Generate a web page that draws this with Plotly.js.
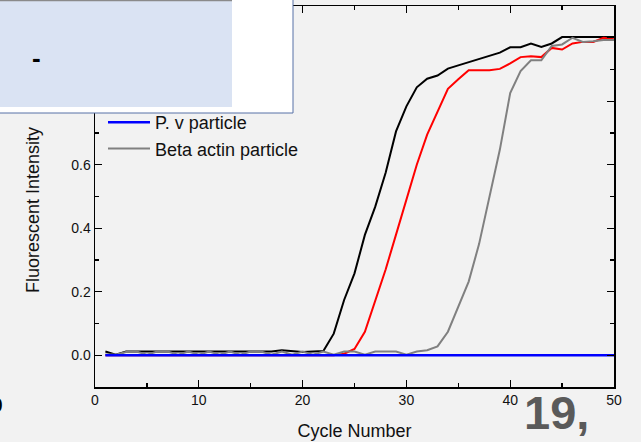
<!DOCTYPE html>
<html>
<head>
<meta charset="utf-8">
<script src="https://cdn.plot.ly/plotly-3.0.1.min.js"></script>
<style>
html,body{margin:0;padding:0;background:#f2f2f2;}
#chart{width:641px;height:442px;}
</style>
</head>
<body>
<div id="chart"></div>
<script>
// ---- data ----
const cycles = [1,2,3,4,5,6,7,8,9,10,11,12,13,14,15,16,17,18,19,20,21,22,23,24,25,26,27,28,29,30,31,32,33,34,35,36,37,38,39,40,41,42,43,44,45,46,47,48,49,50];
const blackSeries = [0.012,0.002,0.012,0.012,0.012,0.012,0.012,0.012,0.012,0.012,0.012,0.012,0.012,0.012,0.014,0.014,0.012,0.016,0.012,0.010,0.012,0.013,0.068,0.174,0.258,0.379,0.468,0.575,0.705,0.784,0.844,0.871,0.881,0.903,0.913,0.923,0.933,0.943,0.953,0.970,0.970,0.982,0.971,0.982,1.002,1.002,1.002,1.002,1.002,1.002];
const redSeries = [0,0,0,0,0,0,0,0,0,0,0,0,0,0,0,0,0,0,0,0,0,0,0,0.005,0.020,0.074,0.170,0.270,0.380,0.490,0.600,0.695,0.767,0.839,0.869,0.898,0.898,0.898,0.902,0.919,0.939,0.942,0.939,0.968,0.963,0.982,0.987,0.987,1.000,0.995];
const pvParticle = [0,0,0,0,0,0,0,0,0,0,0,0,0,0,0,0,0,0,0,0,0,0,0,0,0,0,0,0,0,0,0,0,0,0,0,0,0,0,0,0,0,0,0,0,0,0,0,0,0,0];
const betaActin = [0.002,0.002,0.010,0.012,0.002,0.012,0.012,0.002,0.012,0.002,0.012,0.002,0.012,0.002,0.012,0.012,0.002,0.012,0.002,0.012,0.002,0.012,0.002,0.012,0.012,0.002,0.012,0.012,0.012,0.002,0.012,0.016,0.028,0.074,0.155,0.232,0.350,0.500,0.647,0.826,0.895,0.929,0.929,0.974,0.979,1.000,0.987,0.989,0.993,0.993];
const legendNames = ["P. v particle", "Beta actin particle"];
const xTitle = "Cycle Number";
const yTitle = "Fluorescent Intensity";

// ---- layout helpers (pixel -> paper) ----
const W = 641, H = 442, mL = 95, mR = 27, mT = 6, mB = 55;
const pw = W - mL - mR, ph = H - mT - mB;
const px = p => (p - mL) / pw;
const py = p => (H - mB - p) / ph;

const font = "Liberation Sans, Arial, sans-serif";

const traces = [
  {x: cycles, y: blackSeries, mode: 'lines', line: {color: '#000000', width: 2}, showlegend: false},
  {x: cycles, y: redSeries, mode: 'lines', line: {color: '#ff0000', width: 2}, showlegend: false},
  {x: cycles, y: betaActin, mode: 'lines', name: legendNames[1], line: {color: '#808080', width: 2}, legendrank: 2},
  {x: cycles, y: pvParticle, mode: 'lines', name: legendNames[0], line: {color: '#0000ff', width: 2.5}, legendrank: 1}
];

const axisCommon = {
  showgrid: false, zeroline: false, showline: true, linecolor: '#000', linewidth: 1.5,
  mirror: 'ticks', ticks: 'inside', ticklen: 7, tickwidth: 1.2, tickcolor: '#000',
  tickfont: {family: font, size: 14, color: '#111'}
};

const layout = {
  width: W, height: H,
  margin: {l: mL, r: mR, t: mT, b: mB, pad: 0},
  paper_bgcolor: '#f2f2f2', plot_bgcolor: '#f2f2f2',
  font: {family: font, color: '#111'},
  xaxis: Object.assign({}, axisCommon, {
    range: [0, 50], dtick: 10, tick0: 0,
    minor: {dtick: 5, ticks: 'inside', ticklen: 4, tickcolor: '#000', tickwidth: 1.2},
    title: {text: xTitle, font: {family: font, size: 18, color: '#111'}, standoff: 17}
  }),
  yaxis: Object.assign({}, axisCommon, {
    range: [-0.1, 1.1], dtick: 0.2, tick0: 0, tickformat: '.1f',
    minor: {dtick: 0.1, ticks: 'inside', ticklen: 4, tickcolor: '#000', tickwidth: 1.2}
  }),
  showlegend: true,
  legend: {
    x: px(103), y: py(104), xanchor: 'left', yanchor: 'top',
    bgcolor: 'rgba(0,0,0,0)', borderwidth: 0, itemwidth: 42,
    font: {family: font, size: 18, color: '#111'}, traceorder: 'normal'
  },
  shapes: [
    {type: 'rect', xref: 'paper', yref: 'paper', layer: 'above',
     x0: px(-3), x1: px(293), y0: py(113), y1: py(-3),
     fillcolor: '#ffffff', line: {color: '#5670a6', width: 1}},
    {type: 'rect', xref: 'paper', yref: 'paper', layer: 'above',
     x0: px(-3), x1: px(232), y0: py(107), y1: py(1),
     fillcolor: '#dae3f3', line: {width: 0}},
    {type: 'line', xref: 'paper', yref: 'paper', layer: 'above',
     x0: px(-3), x1: px(232), y0: py(0.5), y1: py(0.5),
     line: {color: '#8a8a8a', width: 1.5}}
  ],
  annotations: [
    {xref: 'paper', yref: 'paper', x: px(33), y: py(210), text: yTitle, textangle: -90,
     showarrow: false, font: {family: font, size: 18, color: '#111'}, xanchor: 'center', yanchor: 'middle'},
    {xref: 'paper', yref: 'paper', x: px(36.5), y: py(57.5), text: '<b>-</b>',
     showarrow: false, font: {family: font, size: 26, color: '#000'}, xanchor: 'center', yanchor: 'middle'},
    {xref: 'paper', yref: 'paper', x: px(522), y: py(412), text: '<b>19,</b>',
     showarrow: false, font: {family: font, size: 47, color: '#5a5a5a'}, xanchor: 'left', yanchor: 'middle'},
    {xref: 'paper', yref: 'paper', x: px(5), y: py(404), text: '<b>0</b>',
     showarrow: false, font: {family: font, size: 21, color: '#000'}, xanchor: 'right', yanchor: 'middle'}
  ]
};

Plotly.newPlot('chart', traces, layout, {displayModeBar: false, staticPlot: true});
</script>
</body>
</html>
